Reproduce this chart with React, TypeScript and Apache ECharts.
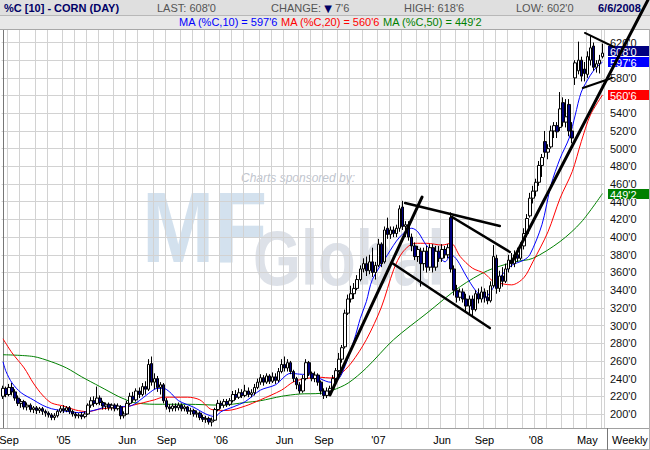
import React, { useEffect, useRef } from "react";
import * as echarts from "echarts";

const FONT = "'Liberation Sans', Arial, sans-serif";

// ---- categories (weekly bars, Fridays) ----
const firstWeek = "2004-08-20";
const weekCount = 199;

// ---- weekly OHLC (cents/bushel) ----
const opens = [
  220,229,222,230,225,218,212,214,208,210,
  205,207,204,206,203,201,199,196,198,203,
  206,204,207,203,200,198,199,197,200,210,
  215,212,218,213,209,211,207,210,206,208,
  198,200,212,220,216,226,222,231,228,257,
  236,240,230,233,215,208,206,209,207,210,
  206,208,203,204,200,201,196,194,195,191,
  193,205,212,210,214,211,215,222,219,224,
  221,226,222,224,230,236,241,236,243,237,
  242,238,248,256,252,258,248,240,233,226,
  240,258,246,240,244,236,226,221,226,229,
  240,249,262,276,314,330,336,342,352,364,
  370,362,372,360,368,392,372,410,403,408,
  404,410,434,412,414,400,390,378,384,370,
  384,366,388,366,384,376,386,380,422,364,
  340,332,338,330,322,330,318,336,330,338,
  332,328,345,376,342,356,350,364,374,370,
  380,376,390,404,424,444,452,462,481,508,
  496,502,520,526,524,552,530,550,520,580,
  588,600,590,584,600,616,592,596,604,
];
const closes = [
  229,222,230,225,218,212,214,208,210,205,
  207,204,206,203,201,199,196,198,203,206,
  204,207,203,200,198,199,197,200,210,215,
  212,218,213,209,211,207,210,206,209,198,
  200,212,220,216,226,222,231,228,256,236,
  240,230,233,215,208,206,209,207,210,206,
  208,203,204,200,201,196,194,195,191,193,
  205,212,210,214,211,215,222,219,224,221,
  226,222,224,230,236,241,236,243,237,242,
  238,248,256,252,258,248,240,233,226,240,
  258,246,240,244,236,226,221,226,229,240,
  249,262,275,314,330,336,342,352,364,370,
  362,372,360,368,392,370,408,403,408,404,
  410,432,412,414,400,390,378,386,370,384,
  366,388,366,384,376,386,380,388,364,340,
  332,338,330,322,330,318,336,330,338,332,
  328,345,378,342,356,350,364,374,370,380,
  376,390,404,421,444,452,462,481,490,496,
  500,520,526,519,545,530,536,520,512,597,
  600,582,585,604,614,592,596,600,608,
];
const lows = [
  217,219,220,221,215,209,207,205,204,202,
  201,200,201,199,197,196,193,193,196,201,
  201,202,200,197,195,195,194,195,199,207,
  208,210,210,205,205,204,204,203,204,194,
  195,199,210,213,214,218,220,222,226,232,
  228,225,222,212,205,202,203,203,204,203,
  203,200,199,197,196,193,191,190,188,186,
  192,203,206,207,208,209,213,216,217,218,
  219,219,219,221,228,233,232,234,234,235,
  234,236,246,248,248,245,236,228,223,224,
  238,243,237,236,232,222,217,218,222,227,
  238,247,258,274,312,326,330,340,350,360,
  356,358,355,352,366,366,370,398,398,400,
  400,406,408,400,396,384,374,372,344,362,
  360,362,360,362,372,372,376,376,360,334,
  326,328,326,316,314,310,316,325,326,326,
  324,326,343,336,338,344,348,360,366,366,
  372,374,386,400,422,438,446,458,468,490,
  488,500,512,512,520,525,524,514,506,572,
  584,576,576,580,594,588,586,585,602,
];
const highs = [
  232,231,234,235,228,221,217,216,213,212,
  209,209,208,208,205,203,201,201,205,209,
  210,209,209,205,202,201,202,203,212,219,
  220,231,221,215,213,213,212,212,212,210,
  203,215,224,225,229,230,235,237,262,265,
  246,243,236,235,218,211,212,212,213,212,
  210,209,207,206,204,203,199,198,197,196,
  207,216,215,217,217,218,226,227,229,228,
  233,230,228,234,240,245,244,246,245,247,
  246,252,262,265,262,260,250,242,236,244,
  262,260,248,248,246,238,229,230,232,244,
  252,269,278,318,335,345,348,357,368,376,
  378,380,388,372,398,394,412,422,412,412,
  414,436,441,418,418,404,394,390,388,388,
  390,392,392,390,390,392,390,392,428,368,
  346,342,342,336,334,334,340,342,344,342,
  340,350,391,380,362,366,370,380,382,385,
  388,394,410,426,450,458,466,486,494,520,
  505,526,530,530,564,558,556,556,530,600,
  621,604,598,610,628,620,600,606,618.75,
];

// ---- moving averages as [week index, value] ----
const ma10Line = [
  [0,259],[1,248],[3,235],[6,224],[10,216],[13,210],[16,206],[21,203],[25,201.5],[28,202.6],
  [32,206],[35,210],[39,208.5],[42,209],[45,215],[48,223],[51,229],[53,229],[55,225],[58,215],
  [63,207.6],[67,200],[70,197],[72,202.6],[76,208],[80,214],[85,227],[90,233],[95,246],[98,245],
  [102,244],[106,238],[108,236],[110,237],[112,246],[116,284],[118,308],[120,327],[122,352],[127,380],
  [131,400],[135,410],[137,406],[140,390],[144,378],[146,372],[148,380],[150,374],[153,356],[156,340],
  [159,331],[161,338],[164,354],[168,368],[172,374],[174,380],[178,414],[181,459],[184,489],[187,512],
  [189,538],[191,564],[194,583],[196,592],[198,597.75],
];
const ma20Line = [
  [0,285],[3,269],[7,252],[10,235],[13,221.5],[16,212.5],[20,209],[24,204.5],[28,202.6],[32,205.6],
  [36,207],[40,208],[43,210],[50,216],[53,219],[61,219],[65,216],[69,205],[74,204],[80,209],
  [85,216],[92,227],[96,236.5],[100,240],[105,241.5],[108,240.7],[111,244],[115,257.6],[120,284],[125,321],
  [129,363],[132,383],[136,393],[140,393],[145,391],[148,393],[151,378],[155,365],[159,359],[162,350],
  [168,346],[172,354],[175,372],[180,406],[184,444],[188,474],[191,508],[194,538],[198,560.75],
];
const ma50Line = [
  [0,267],[10,265],[16,259],[21,252],[26,242],[32,231],[38,220],[40,217],[43,213],[50,211],
  [61,211],[72,210],[80,213],[85,215],[92,220],[98,222.6],[105,223.4],[109,227],[114,235],[120,252],
  [129,284],[140,314],[151,344],[160,362],[169,372],[175,376],[184,395],[191,417],[198,449.25],
];

// ---- hand-drawn trend lines, [week index, price] end points ----
const trendLines = [
  [[108.0, 221.5], [138.4, 445.3]],
  [[132.8, 438.6], [164.1, 412.5]],
  [[128.5, 370.7], [160.8, 297.2]],
  [[148.3, 422.7], [167.4, 383.2]],
  [[168.1, 371.8], [213.0, 668.0]],
  [[192.2, 630.8], [201.8, 614.9]],
  [[191.5, 568.6], [201.1, 579.9]],
];
const trendWidths = [3, 2.5, 2.5, 2.5, 3, 2, 2];

// ---- axis ticks / labels ----
const yTicks = [200,220,240,260,280,300,320,340,360,380,400,420,440,460,480,500,520,540,560,580,600,620];
const yLabelsHiddenByBoxes = [600, 560];
const xLabelMonths = ["2004-09","2005-01","2005-06","2005-09","2006-01","2006-06","2006-09","2007-01","2007-06","2007-09","2008-01","2008-05"];
const xLabelTexts = ["Sep","'05","Jun","Sep","'06","Jun","Sep","'07","Jun","Sep","'08","May"];

// ---- header values ----
const lastPrice = 608;
const changeValue = -7.75;
const highValue = 618.75;
const lowValue = 602;
const lastDate = "6/6/2008";
const ma10Last = 597.75;
const ma20Last = 560.75;
const ma50Last = 449.25;

function fmt(v: number): string {
  const a = Math.abs(v);
  const w = Math.floor(a + 1e-9);
  const e = Math.round((a - w) * 8);
  return `${w}'${e}`;
}

function buildWeeks(): string[] {
  const out: string[] = [];
  const t0 = Date.parse(firstWeek + "T00:00:00Z");
  for (let i = 0; i < weekCount; i++) {
    out.push(new Date(t0 + i * 7 * 86400000).toISOString().slice(0, 10));
  }
  return out;
}

export default function App() {
  const ref = useRef<HTMLDivElement>(null);
  useEffect(() => {
    const el = ref.current;
    if (!el) return;
    const chart = echarts.init(el, undefined, { renderer: "svg", width: 650, height: 450 });
    const weeks = buildWeeks();
    const monthStart = weeks.map((d, i) => i > 0 && d.slice(0, 7) !== weeks[i - 1].slice(0, 7));
    const labelAt: Record<number, string> = {};
    weeks.forEach((d, i) => {
      if (monthStart[i]) {
        const k = xLabelMonths.indexOf(d.slice(0, 7));
        if (k >= 0) labelAt[i] = xLabelTexts[k];
      }
    });
    const candles = weeks.map((_, i) => [opens[i], closes[i], lows[i], highs[i]]);
    const gridColor = "#d2d2d2";

    const series: any[] = [
      {
        type: "candlestick",
        data: candles,
        barWidth: 3,
        z: 5,
        silent: true,
        itemStyle: {
          color: "#ffffff",
          color0: "#000080",
          borderColor: "#000000",
          borderColor0: "#000000",
          borderWidth: 1,
        },
      },
      { type: "line", xAxisIndex: 1, data: ma50Line, symbol: "none", smooth: 0.3, z: 5, silent: true, lineStyle: { color: "#008000", width: 1 } },
      { type: "line", xAxisIndex: 1, data: ma20Line, symbol: "none", smooth: 0.3, z: 5, silent: true, lineStyle: { color: "#ff0000", width: 1 } },
      { type: "line", xAxisIndex: 1, data: ma10Line, symbol: "none", smooth: 0.3, z: 5, silent: true, lineStyle: { color: "#0000ff", width: 1 } },
    ];

    chart.setOption({
      animation: false,
      backgroundColor: "#ffffff",
      grid: { left: 1.5, right: 46, top: 30, bottom: 22, containLabel: false, outerBoundsMode: "none" },
      xAxis: [
        {
          type: "category",
          data: weeks,
          boundaryGap: true,
          z: 2,
          axisLine: { show: false },
          axisTick: { show: false },
          axisLabel: {
            interval: (i: number) => labelAt[i] !== undefined,
            formatter: (_v: string, i: number) => labelAt[i] ?? "",
            align: "center",
            margin: 6,
            fontSize: 11,
            fontFamily: FONT,
            color: "#000000",
          },
          splitLine: { show: true, interval: (i: number) => monthStart[i], lineStyle: { color: gridColor, width: 1 } },
        },
        { type: "value", min: -0.5, max: weekCount - 0.5, show: false },
      ],
      yAxis: {
        type: "value",
        position: "right",
        min: 184.17,
        max: 634.14,
        offset: 3,
        z: 2,
        axisLine: { show: true, lineStyle: { color: "#777777", width: 1 } },
        axisTick: { show: false, customValues: yTicks },
        axisLabel: {
          customValues: yTicks.filter((v) => yLabelsHiddenByBoxes.indexOf(v) < 0),
          formatter: (v: number) => fmt(v),
          margin: 3,
          fontSize: 11,
          fontFamily: FONT,
          color: "#111111",
        },
        splitLine: { show: true, lineStyle: { color: gridColor, width: 1 } },
      },
      series,
    });

    const py = (v: number) => chart.convertToPixel({ yAxisIndex: 0 }, v) as number;
    const px = (i: number) => chart.convertToPixel({ xAxisIndex: 1 }, i) as number;
    const boxH = 10;
    const yBlue = py(ma10Last);
    let yNavy = py(lastPrice);
    if (yBlue - yNavy < boxH + 1) yNavy = yBlue - boxH - 1;
    const boxes = [
      { y: yNavy, color: "#000080", text: fmt(lastPrice) },
      { y: yBlue, color: "#0000ff", text: fmt(ma10Last) },
      { y: py(ma20Last), color: "#ff0000", text: fmt(ma20Last) },
      { y: py(ma50Last), color: "#008000", text: fmt(ma50Last) },
    ];

    const hdr = (x: number, y: number, text: string, fill: string, bold = false) => ({
      type: "text",
      z: 4,
      silent: true,
      style: { x, y, text, fill, font: `${bold ? "bold " : ""}11px ${FONT}`, verticalAlign: "middle" },
    });

    const elements: any[] = [
      // watermark
      {
        type: "text", z: 1, silent: true, x: 142, y: 227, scaleX: 0.86,
        style: { x: 0, y: 0, text: "MF", fill: "#d3e1ee", font: `bold 101px ${FONT}`, verticalAlign: "middle" },
      },
      {
        type: "text", z: 1, silent: true, x: 253, y: 258, scaleX: 0.8,
        style: { x: 0, y: 0, text: "Global", fill: "#dde1e8", font: `bold 77px ${FONT}`, verticalAlign: "middle" },
      },
      {
        type: "text", z: 1, silent: true,
        style: { x: 241, y: 178, text: "Charts sponsored by:", fill: "#bfc5ce", font: `italic 12px ${FONT}`, verticalAlign: "middle" },
      },
      // header
      { type: "rect", z: 3, silent: true, shape: { x: 0, y: 0, width: 650, height: 15 }, style: { fill: "#dfdfdf" } },
      { type: "rect", z: 3, silent: true, shape: { x: 0, y: 15, width: 650, height: 14 }, style: { fill: "#e8e8e8" } },
      { type: "line", z: 3, silent: true, shape: { x1: 0, y1: 15.5, x2: 650, y2: 15.5 }, style: { stroke: "#b8b8b8", lineWidth: 1 } },
      { type: "line", z: 3, silent: true, shape: { x1: 0, y1: 29.5, x2: 650, y2: 29.5 }, style: { stroke: "#a8a8a8", lineWidth: 1 } },
      hdr(4, 8, "%C [10] - CORN (DAY)", "#000066", true),
      hdr(157, 8, `LAST: ${fmt(lastPrice)}`, "#555555"),
      {
        type: "text", z: 4, silent: true,
        style: {
          x: 271, y: 8, verticalAlign: "middle", font: `11px ${FONT}`, fill: "#555555",
          text: `{a|CHANGE: }{t|${changeValue < 0 ? "▼" : "▲"}}{a| ${fmt(changeValue)}}`,
          rich: {
            a: { fill: "#555555", font: `11px ${FONT}` },
            t: { fill: "#000066", font: `10px DejaVu Sans, ${FONT}` },
          },
        },
      },
      hdr(404, 8, `HIGH: ${fmt(highValue)}`, "#555555"),
      hdr(516, 8, `LOW: ${fmt(lowValue)}`, "#555555"),
      hdr(598, 8, lastDate, "#000066", true),
      {
        type: "text", z: 4, silent: true,
        style: {
          x: 179, y: 22, verticalAlign: "middle", font: `11px ${FONT}`,
          text: `{b|MA (%C,10) = ${fmt(ma10Last)}} {r|MA (%C,20) = ${fmt(ma20Last)}} {g|MA (%C,50) = ${fmt(ma50Last)}}`,
          rich: {
            b: { fill: "#0000ff", font: `11px ${FONT}` },
            r: { fill: "#ff0000", font: `11px ${FONT}` },
            g: { fill: "#008000", font: `11px ${FONT}` },
          },
        },
      },
      // bottom row and frame
      { type: "line", z: 3, silent: true, shape: { x1: 0, y1: 428.5, x2: 650, y2: 428.5 }, style: { stroke: "#a0a0a0", lineWidth: 1 } },
      { type: "line", z: 3, silent: true, shape: { x1: 0, y1: 449.5, x2: 650, y2: 449.5 }, style: { stroke: "#b0b0b0", lineWidth: 1 } },
      { type: "line", z: 3, silent: true, shape: { x1: 649.5, y1: 29, x2: 649.5, y2: 450 }, style: { stroke: "#b0b0b0", lineWidth: 1 } },
      { type: "line", z: 3, silent: true, shape: { x1: 607.5, y1: 428, x2: 607.5, y2: 450 }, style: { stroke: "#777777", lineWidth: 1 } },
      hdr(612, 440, "Weekly", "#000000"),
    ];
    boxes.forEach((b) => {
      elements.push({
        type: "rect", z: 4, silent: true,
        shape: { x: 608, y: Math.round(b.y - boxH / 2), width: 41, height: boxH },
        style: { fill: b.color },
      });
      elements.push({
        type: "text", z: 4, silent: true,
        style: { x: 610, y: Math.round(b.y) + 0.5, text: b.text, fill: "#ffffff", font: `11px ${FONT}`, verticalAlign: "middle" },
      });
    });
    // trend lines, placed through the chart's own scales
    trendLines.forEach((seg, k) => {
      elements.push({
        type: "line", z: 8, silent: true,
        shape: { x1: px(seg[0][0]), y1: py(seg[0][1]), x2: px(seg[1][0]), y2: py(seg[1][1]) },
        style: { stroke: "#000000", lineWidth: trendWidths[k], lineCap: "round" },
      });
    });
    chart.setOption({ graphic: { elements } });

    return () => chart.dispose();
  }, []);
  return <div ref={ref} style={{ position: "fixed", left: 0, top: 0, width: 650, height: 450 }} />;
}
